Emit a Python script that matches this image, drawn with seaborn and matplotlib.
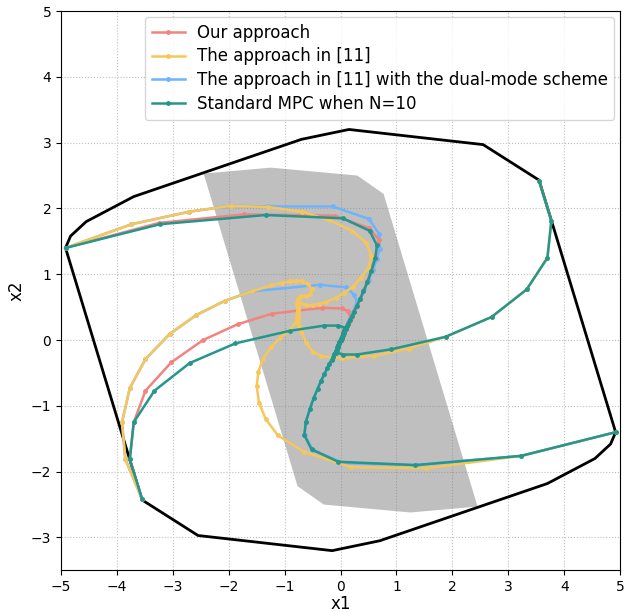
import pandas as pd
import matplotlib
matplotlib.use("Agg")
import matplotlib.pyplot as plt
from matplotlib.lines import Line2D
import seaborn as sns

# --- DATA ---
LABELS = ["Our approach",
          "The approach in [11]",
          "The approach in [11] with the dual-mode scheme",
          "Standard MPC when N=10"]
COLORS = ["#F2847F", "#F7C65A", "#6EB4FA", "#25968C"]
# drawing order (bottom -> top): dual-mode, ours, [11], standard MPC
DRAW_ORDER = [2, 0, 1, 3]

# outer (black) set and inner (grey) set
outer_x = [-4.92, -4.83, -4.55, -3.70, -0.70, 0.15, 2.55, 3.55, 3.77,
           4.92, 4.83, 4.55, 3.70, 0.70, -0.15, -2.55, -3.55, -3.77]
outer_y = [1.40, 1.58, 1.80, 2.18, 3.05, 3.20, 2.97, 2.43, 1.82,
           -1.40, -1.58, -1.80, -2.18, -3.05, -3.20, -2.97, -2.43, -1.82]
grey_x = [-2.45, -1.25, 0.30, 0.77, 2.45, 1.25, -0.30, -0.77]
grey_y = [2.53, 2.62, 2.50, 2.22, -2.53, -2.62, -2.50, -2.22]

# our approach
ours_a_x = [-4.92, -3.25, -1.72, -0.10, 0.51, 0.69, 0.62, 0.55, 0.48, 0.41, 0.35, 0.29,
            0.24, 0.20, 0.16, 0.13, 0.11, 0.09, 0.07, 0.05, 0.03, 0.01, 0.00]
ours_a_y = [1.40, 1.78, 1.91, 1.89, 1.70, 1.52, 1.27, 1.07, 0.89, 0.75, 0.63, 0.53,
            0.44, 0.36, 0.30, 0.25, 0.21, 0.17, 0.13, 0.09, 0.05, 0.02, 0.00]
ours_b_x = [-3.55, -3.77, -3.70, -3.49, -3.03, -2.46, -1.84, -1.23, -0.33, 0.02, 0.13,
            0.18, 0.15, 0.12, 0.10, 0.08, 0.06, 0.04, 0.03, 0.02, 0.01, 0.00]
ours_b_y = [-2.42, -1.81, -1.25, -0.77, -0.34, 0.00, 0.24, 0.40, 0.49, 0.48, 0.44,
            0.34, 0.28, 0.23, 0.19, 0.15, 0.12, 0.09, 0.06, 0.04, 0.02, 0.00]

# approach in [11]
ref_a_x = [-4.92, -3.74, -2.71, -1.96, -1.29, -0.69, -0.20, 0.21, 0.46, 0.55, 0.50, 0.37,
           0.22, 0.07, -0.08, -0.26, -0.39, -0.50, -0.61, -0.72, -0.76, -0.77, -0.77,
           -0.77, -0.77]
ref_a_y = [1.40, 1.76, 1.95, 2.04, 2.02, 1.95, 1.82, 1.66, 1.48, 1.28, 1.10, 0.95,
           0.81, 0.72, 0.64, 0.58, 0.55, 0.53, 0.53, 0.56, 0.53, 0.50, 0.48, 0.46, 0.45]
ref_b_x = [-3.55, -3.85, -3.91, -3.77, -3.49, -3.06, -2.58, -2.06, -1.58, -1.24, -1.04,
           -0.91, -0.79, -0.69, -0.58, -0.52, -0.54, -0.61, -0.70, -0.76, -0.78, -0.78,
           -0.77, -0.77, -0.77]
ref_b_y = [-2.42, -1.81, -1.25, -0.73, -0.29, 0.09, 0.38, 0.60, 0.74, 0.83, 0.87,
           0.89, 0.90, 0.89, 0.85, 0.77, 0.70, 0.67, 0.67, 0.63, 0.57, 0.53, 0.50, 0.47, 0.45]
ref_c_x = [3.55, 3.77, 3.70, 3.33, 2.70, 1.88, 1.22, 0.60, 0.03, -0.35, -0.49, -0.61,
           -0.70, -0.74, -0.76, -0.77, -0.77, -0.77, -0.77, -0.77, -0.77]
ref_c_y = [2.42, 1.81, 1.25, 0.77, 0.35, 0.05, -0.13, -0.24, -0.28, -0.24, -0.18, -0.05,
           0.13, 0.21, 0.28, 0.33, 0.37, 0.40, 0.42, 0.44, 0.45]
ref_d_x = [4.92, 3.23, 1.53, 0.18, -0.65, -1.12, -1.34, -1.46, -1.50, -1.47, -1.39,
           -1.25, -1.09, -0.91, -0.79, -0.78, -0.78, -0.77, -0.77, -0.77]
ref_d_y = [-1.40, -1.76, -1.95, -1.93, -1.70, -1.45, -1.20, -0.95, -0.70, -0.48, -0.29,
           -0.11, 0.03, 0.15, 0.28, 0.34, 0.38, 0.41, 0.43, 0.45]

# approach in [11] with dual-mode scheme
dual_a_x = [-4.92, -3.74, -2.71, -1.96, -1.29, -0.14, 0.51, 0.69, 0.70, 0.65, 0.58, 0.50,
            0.42, 0.35, 0.29, 0.24, 0.19, 0.15, 0.12, 0.09, 0.07, 0.05, 0.03, 0.01, 0.00]
dual_a_y = [1.40, 1.76, 1.95, 2.04, 2.03, 2.03, 1.84, 1.61, 1.39, 1.23, 1.07, 0.91,
            0.77, 0.64, 0.53, 0.44, 0.36, 0.29, 0.23, 0.18, 0.14, 0.10, 0.06, 0.03, 0.00]
dual_b_x = [-3.55, -3.85, -3.91, -3.77, -3.49, -3.06, -2.58, -2.06, -1.58, -0.37, 0.10,
            0.24, 0.29, 0.25, 0.21, 0.17, 0.14, 0.11, 0.08, 0.06, 0.04, 0.02, 0.00]
dual_b_y = [-2.42, -1.81, -1.25, -0.73, -0.29, 0.09, 0.38, 0.60, 0.74, 0.84, 0.80,
            0.69, 0.59, 0.49, 0.41, 0.34, 0.28, 0.22, 0.17, 0.12, 0.08, 0.04, 0.00]
dual_d_x = [4.92, 3.23, 1.36, 0.05, -0.50, -0.64, -0.62, -0.55, -0.48, -0.41, -0.35,
            -0.29, -0.24, -0.20, -0.16, -0.13, -0.10, -0.07, -0.04, -0.02, 0.00]
dual_d_y = [-1.40, -1.76, -1.90, -1.87, -1.67, -1.45, -1.24, -1.05, -0.88, -0.74, -0.62,
            -0.52, -0.43, -0.36, -0.30, -0.25, -0.19, -0.13, -0.08, -0.04, 0.00]

# standard MPC, N=10
mpc_a_x = [-4.92, -3.23, -1.34, 0.04, 0.52, 0.65, 0.62, 0.55, 0.48, 0.41, 0.35, 0.29,
           0.24, 0.20, 0.16, 0.13, 0.11, 0.09, 0.07, 0.06, 0.05, 0.04, 0.03, 0.02, 0.01, 0.00]
mpc_a_y = [1.40, 1.76, 1.90, 1.85, 1.66, 1.44, 1.24, 1.05, 0.88, 0.74, 0.62, 0.52,
           0.43, 0.36, 0.30, 0.25, 0.21, 0.17, 0.14, 0.11, 0.09, 0.07, 0.05, 0.03, 0.02, 0.00]
mpc_b_x = [-3.55, -3.77, -3.70, -3.33, -2.70, -1.88, -0.91, -0.29, -0.05, 0.08, 0.07,
           0.06, 0.05, 0.04, 0.03, 0.02, 0.01, 0.00]
mpc_b_y = [-2.42, -1.81, -1.25, -0.77, -0.35, -0.05, 0.14, 0.22, 0.22, 0.19, 0.15,
           0.12, 0.10, 0.07, 0.05, 0.03, 0.02, 0.00]
mpc_c_x = [3.55, 3.77, 3.70, 3.33, 2.70, 1.88, 0.91, 0.29, 0.05, -0.08, -0.07,
           -0.06, -0.05, -0.04, -0.03, -0.02, -0.01, 0.00]
mpc_c_y = [2.42, 1.81, 1.25, 0.77, 0.35, 0.05, -0.14, -0.22, -0.22, -0.19, -0.15,
           -0.12, -0.10, -0.07, -0.05, -0.03, -0.02, 0.00]
mpc_d_x = [4.92, 3.23, 1.34, -0.04, -0.52, -0.65, -0.62, -0.55, -0.48, -0.41, -0.35, -0.29,
           -0.24, -0.20, -0.16, -0.13, -0.11, -0.09, -0.07, -0.06, -0.05, -0.04, -0.03,
           -0.02, -0.01, 0.00]
mpc_d_y = [-1.40, -1.76, -1.90, -1.85, -1.66, -1.44, -1.24, -1.05, -0.88, -0.74, -0.62,
           -0.52, -0.43, -0.36, -0.30, -0.25, -0.21, -0.17, -0.14, -0.11, -0.09, -0.07,
           -0.05, -0.03, -0.02, 0.00]

TRAJECTORIES = [
    (LABELS[0], "ours_a", ours_a_x, ours_a_y),
    (LABELS[0], "ours_b", ours_b_x, ours_b_y),
    (LABELS[1], "ref_a", ref_a_x, ref_a_y),
    (LABELS[1], "ref_b", ref_b_x, ref_b_y),
    (LABELS[1], "ref_c", ref_c_x, ref_c_y),
    (LABELS[1], "ref_d", ref_d_x, ref_d_y),
    (LABELS[2], "dual_a", dual_a_x, dual_a_y),
    (LABELS[2], "dual_b", dual_b_x, dual_b_y),
    (LABELS[2], "dual_d", dual_d_x, dual_d_y),
    (LABELS[3], "mpc_a", mpc_a_x, mpc_a_y),
    (LABELS[3], "mpc_b", mpc_b_x, mpc_b_y),
    (LABELS[3], "mpc_c", mpc_c_x, mpc_c_y),
    (LABELS[3], "mpc_d", mpc_d_x, mpc_d_y),
]

LINE_KW = dict(marker="o", markersize=3.5, markeredgewidth=0, linewidth=1.8)


def build_frame():
    rows = []
    for method, traj, xs, ys in TRAJECTORIES:
        for k, (x, y) in enumerate(zip(xs, ys)):
            rows.append({"method": method, "traj": traj, "step": k, "x1": x, "x2": y})
    return pd.DataFrame(rows)


if __name__ == "__main__":
    df = build_frame()

    fig, ax = plt.subplots(figsize=(6.36, 6.12), dpi=100)
    fig.subplots_adjust(left=0.096, right=0.975, top=0.982, bottom=0.068)

    ax.grid(True, linestyle=":", color="#c0c0c0", linewidth=0.8)
    ax.set_axisbelow(True)

    ax.fill(grey_x, grey_y, color="grey", alpha=0.5, linewidth=0, zorder=1)
    ax.plot(outer_x + outer_x[:1], outer_y + outer_y[:1], color="black", linewidth=2, zorder=1.5)

    for i in DRAW_ORDER:
        sub = df[df["method"] == LABELS[i]]
        sns.lineplot(data=sub, x="x1", y="x2", units="traj", estimator=None, sort=False,
                     color=COLORS[i], legend=False, ax=ax, **LINE_KW)

    handles = [Line2D([], [], color=c, **LINE_KW) for c in COLORS]
    ax.legend(handles, LABELS, loc="upper right", fontsize=12, labelspacing=0.35,
              borderaxespad=0.35, handletextpad=0.7)

    ax.set_xlim(-5, 5)
    ax.set_ylim(-3.5, 5)
    ax.set_xticks(range(-5, 6))
    ax.set_yticks(range(-3, 6))
    ax.set_xlabel("x1", fontsize=12, labelpad=1)
    ax.set_ylabel("x2", fontsize=12)

    plt.savefig("out.png", dpi=100)
    plt.close()
